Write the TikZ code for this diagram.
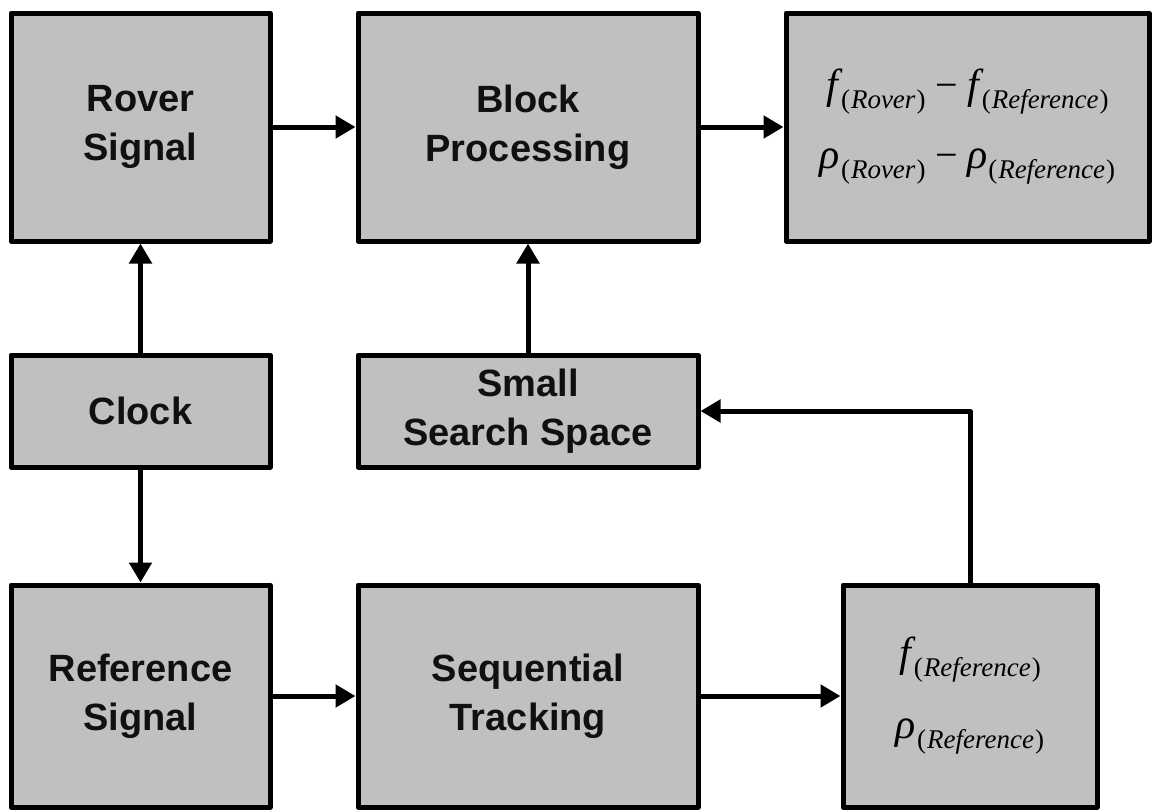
\documentclass[tikz,border=0pt]{standalone}
\usepackage{fontspec}
\setmainfont{Liberation Sans}
\newfontfamily\tms{Liberation Serif}
\usetikzlibrary{arrows.meta}
\definecolor{boxgray}{HTML}{C0C0C0}
\definecolor{ink}{HTML}{101010}
\newcommand\mf[1]{{\fontsize{42}{42}\selectfont\itshape #1}}
\newcommand\msub[1]{\raisebox{-10pt}{\fontsize{27}{27}\selectfont(\kern1pt\textit{#1}\kern1pt)}}
\newcommand\mminus{\hspace{10pt}{\fontsize{40}{40}\selectfont −}\hspace{9pt}}
\tikzset{
  blk/.style={draw=black, fill=boxgray, line width=5pt, line join=round, rectangle,
    inner sep=0pt, align=center, text=ink,
    font=\fontsize{38}{49}\selectfont\bfseries},
  mathblk/.style={blk, font=\tms\fontsize{40}{70}\selectfont, text=black},
  conn/.style={line width=5pt, draw=black, -{Triangle[length=20pt,width=22pt]}}
}
\begin{document}
\begin{tikzpicture}[x=1pt,y=-1pt]
\useasboundingbox (0,0) rectangle (1153,811);
\node[blk, minimum width=259pt, minimum height=228pt] (rover) at (140.5,127) {Rover\\Signal};
\node[blk, minimum width=340pt, minimum height=228pt] (block) at (528,127) {Block\\Processing};
\node[mathblk, minimum width=363pt, minimum height=228pt] (result) at (967.5,127)
  {\mf{f}\kern3pt\msub{Rover}\mminus\mf{f}\kern3pt\msub{Reference}\\
   \mf{ρ}\kern1pt\msub{Rover}\mminus\mf{ρ}\kern1pt\msub{Reference}};
\node[blk, minimum width=259pt, minimum height=112pt] (clock) at (140.5,411) {Clock};
\node[blk, minimum width=340pt, minimum height=112pt] (search) at (528,411) {Small\\Search Space};
\node[blk, minimum width=259pt, minimum height=222pt] (refsig) at (140.5,696) {Reference\\Signal};
\node[blk, minimum width=340pt, minimum height=222pt] (seq) at (528,696) {Sequential\\Tracking};
\node[mathblk, minimum width=254pt, minimum height=222pt, font=\tms\fontsize{40}{72}\selectfont] (refout) at (970,696)
  {\mf{f}\kern3pt\msub{Reference}\\
   \mf{ρ}\kern1pt\msub{Reference}};
\draw[conn] (rover.east) -- (block.west);
\draw[conn] (block.east) -- (result.west);
\draw[conn] (clock.north) -- (rover.south);
\draw[conn] (clock.south) -- (refsig.north);
\draw[conn] (search.north) -- (block.south);
\draw[conn] (refsig.east) -- (seq.west);
\draw[conn] (seq.east) -- (refout.west);
\draw[conn, line join=round] (refout.north) |- (search.east);
\end{tikzpicture}
\end{document}
